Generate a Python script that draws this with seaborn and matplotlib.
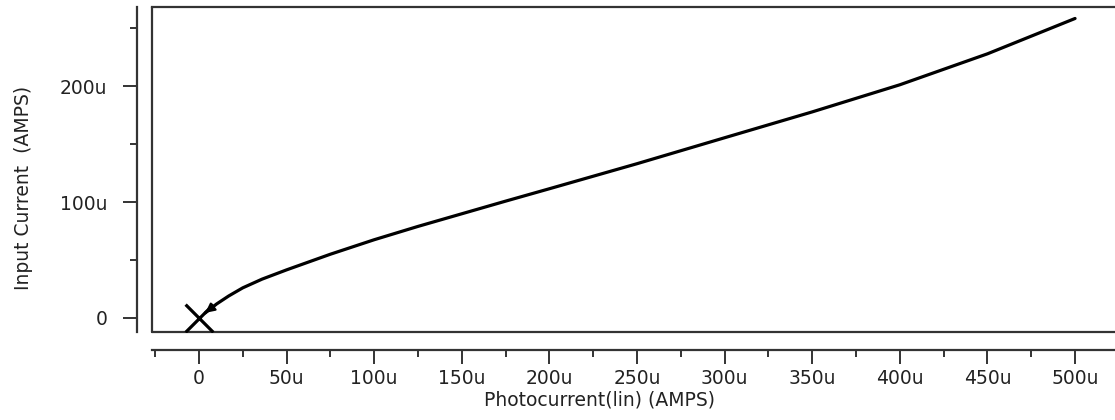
import matplotlib
matplotlib.use("Agg")
import matplotlib.pyplot as plt
import seaborn as sns
from matplotlib.lines import Line2D
from matplotlib.ticker import MultipleLocator, FuncFormatter

# Data (microamps)
photocurrent_uA = [3.6, 10, 17, 25, 36, 50, 75, 100, 125, 150, 175, 200, 250, 300, 350, 400, 450, 500]
input_current_uA = [4.4, 12, 19, 26, 33.5, 41.5, 55, 67.5, 79, 89.9, 100.8, 111.5, 133.1, 155.5, 177.8, 201.2, 227.9, 258.4]
marker_x = [0]
marker_y = [0]

sns.set_style("white")
plt.rcParams['font.family'] = ['DejaVu Sans']

fig = plt.figure(figsize=(11.15, 4.2), dpi=100)
ax = fig.add_axes([152/1115, 1-332/420, 1-152/1115, (332-7)/420])

sns.lineplot(x=photocurrent_uA, y=input_current_uA, ax=ax, color='black', lw=2.3, sort=False)
sns.scatterplot(x=marker_x, y=marker_y, ax=ax, marker='x', s=400, color='black', linewidth=2.3, zorder=5)
ax.annotate("", xy=(photocurrent_uA[0], input_current_uA[0]),
            xytext=(photocurrent_uA[1], input_current_uA[1]),
            arrowprops=dict(arrowstyle='-|>', color='black', lw=1.5, mutation_scale=14,
                            shrinkA=0, shrinkB=0))

ax.set_xlim(-26.8, 522.8)
ax.set_ylim(-12.1, 268.3)

fc = '#333333'
ax.spines['right'].set_visible(False)
ax.spines['top'].set_color(fc)
ax.spines['top'].set_linewidth(1.6)
ax.spines['left'].set_position(('outward', 11))
ax.spines['bottom'].set_position(('outward', 13))
for s in ['left', 'bottom']:
    ax.spines[s].set_color(fc)
    ax.spines[s].set_linewidth(1.6)

# inner frame lines
ax.add_artist(Line2D([0, 0], [0, 1], transform=ax.transAxes, color=fc, lw=1.6, clip_on=False))
ax.add_artist(Line2D([0, 1], [0, 0], transform=ax.transAxes, color=fc, lw=1.6, clip_on=False))

fmt = FuncFormatter(lambda v, p: "0" if abs(v) < 1e-9 else f"{int(round(v))}u")
ax.xaxis.set_major_locator(MultipleLocator(50))
ax.xaxis.set_minor_locator(MultipleLocator(25))
ax.yaxis.set_major_locator(MultipleLocator(100))
ax.yaxis.set_minor_locator(MultipleLocator(50))
ax.xaxis.set_major_formatter(fmt)
ax.yaxis.set_major_formatter(fmt)

ax.tick_params(which='major', direction='out', length=10, width=1.4, color=fc,
               labelsize=13.5, labelcolor='#222222', bottom=True, left=True)
ax.tick_params(which='minor', direction='out', length=5, width=1.4, color=fc, bottom=True, left=True)
ax.tick_params(axis='x', which='major', pad=4)
ax.tick_params(axis='y', which='major', pad=11)

ax.set_xlabel("Photocurrent(lin) (AMPS)", fontsize=13.5, color='#222222')
ax.set_ylabel("Input Current  (AMPS)", fontsize=13.5, color='#222222')
ax.xaxis.set_label_coords((600-152)/963, -(391-332)/325, transform=ax.transAxes)
ax.yaxis.set_label_coords(-(152-33)/963, (332-188)/325, transform=ax.transAxes)

fig.savefig("out.png", dpi=100)
